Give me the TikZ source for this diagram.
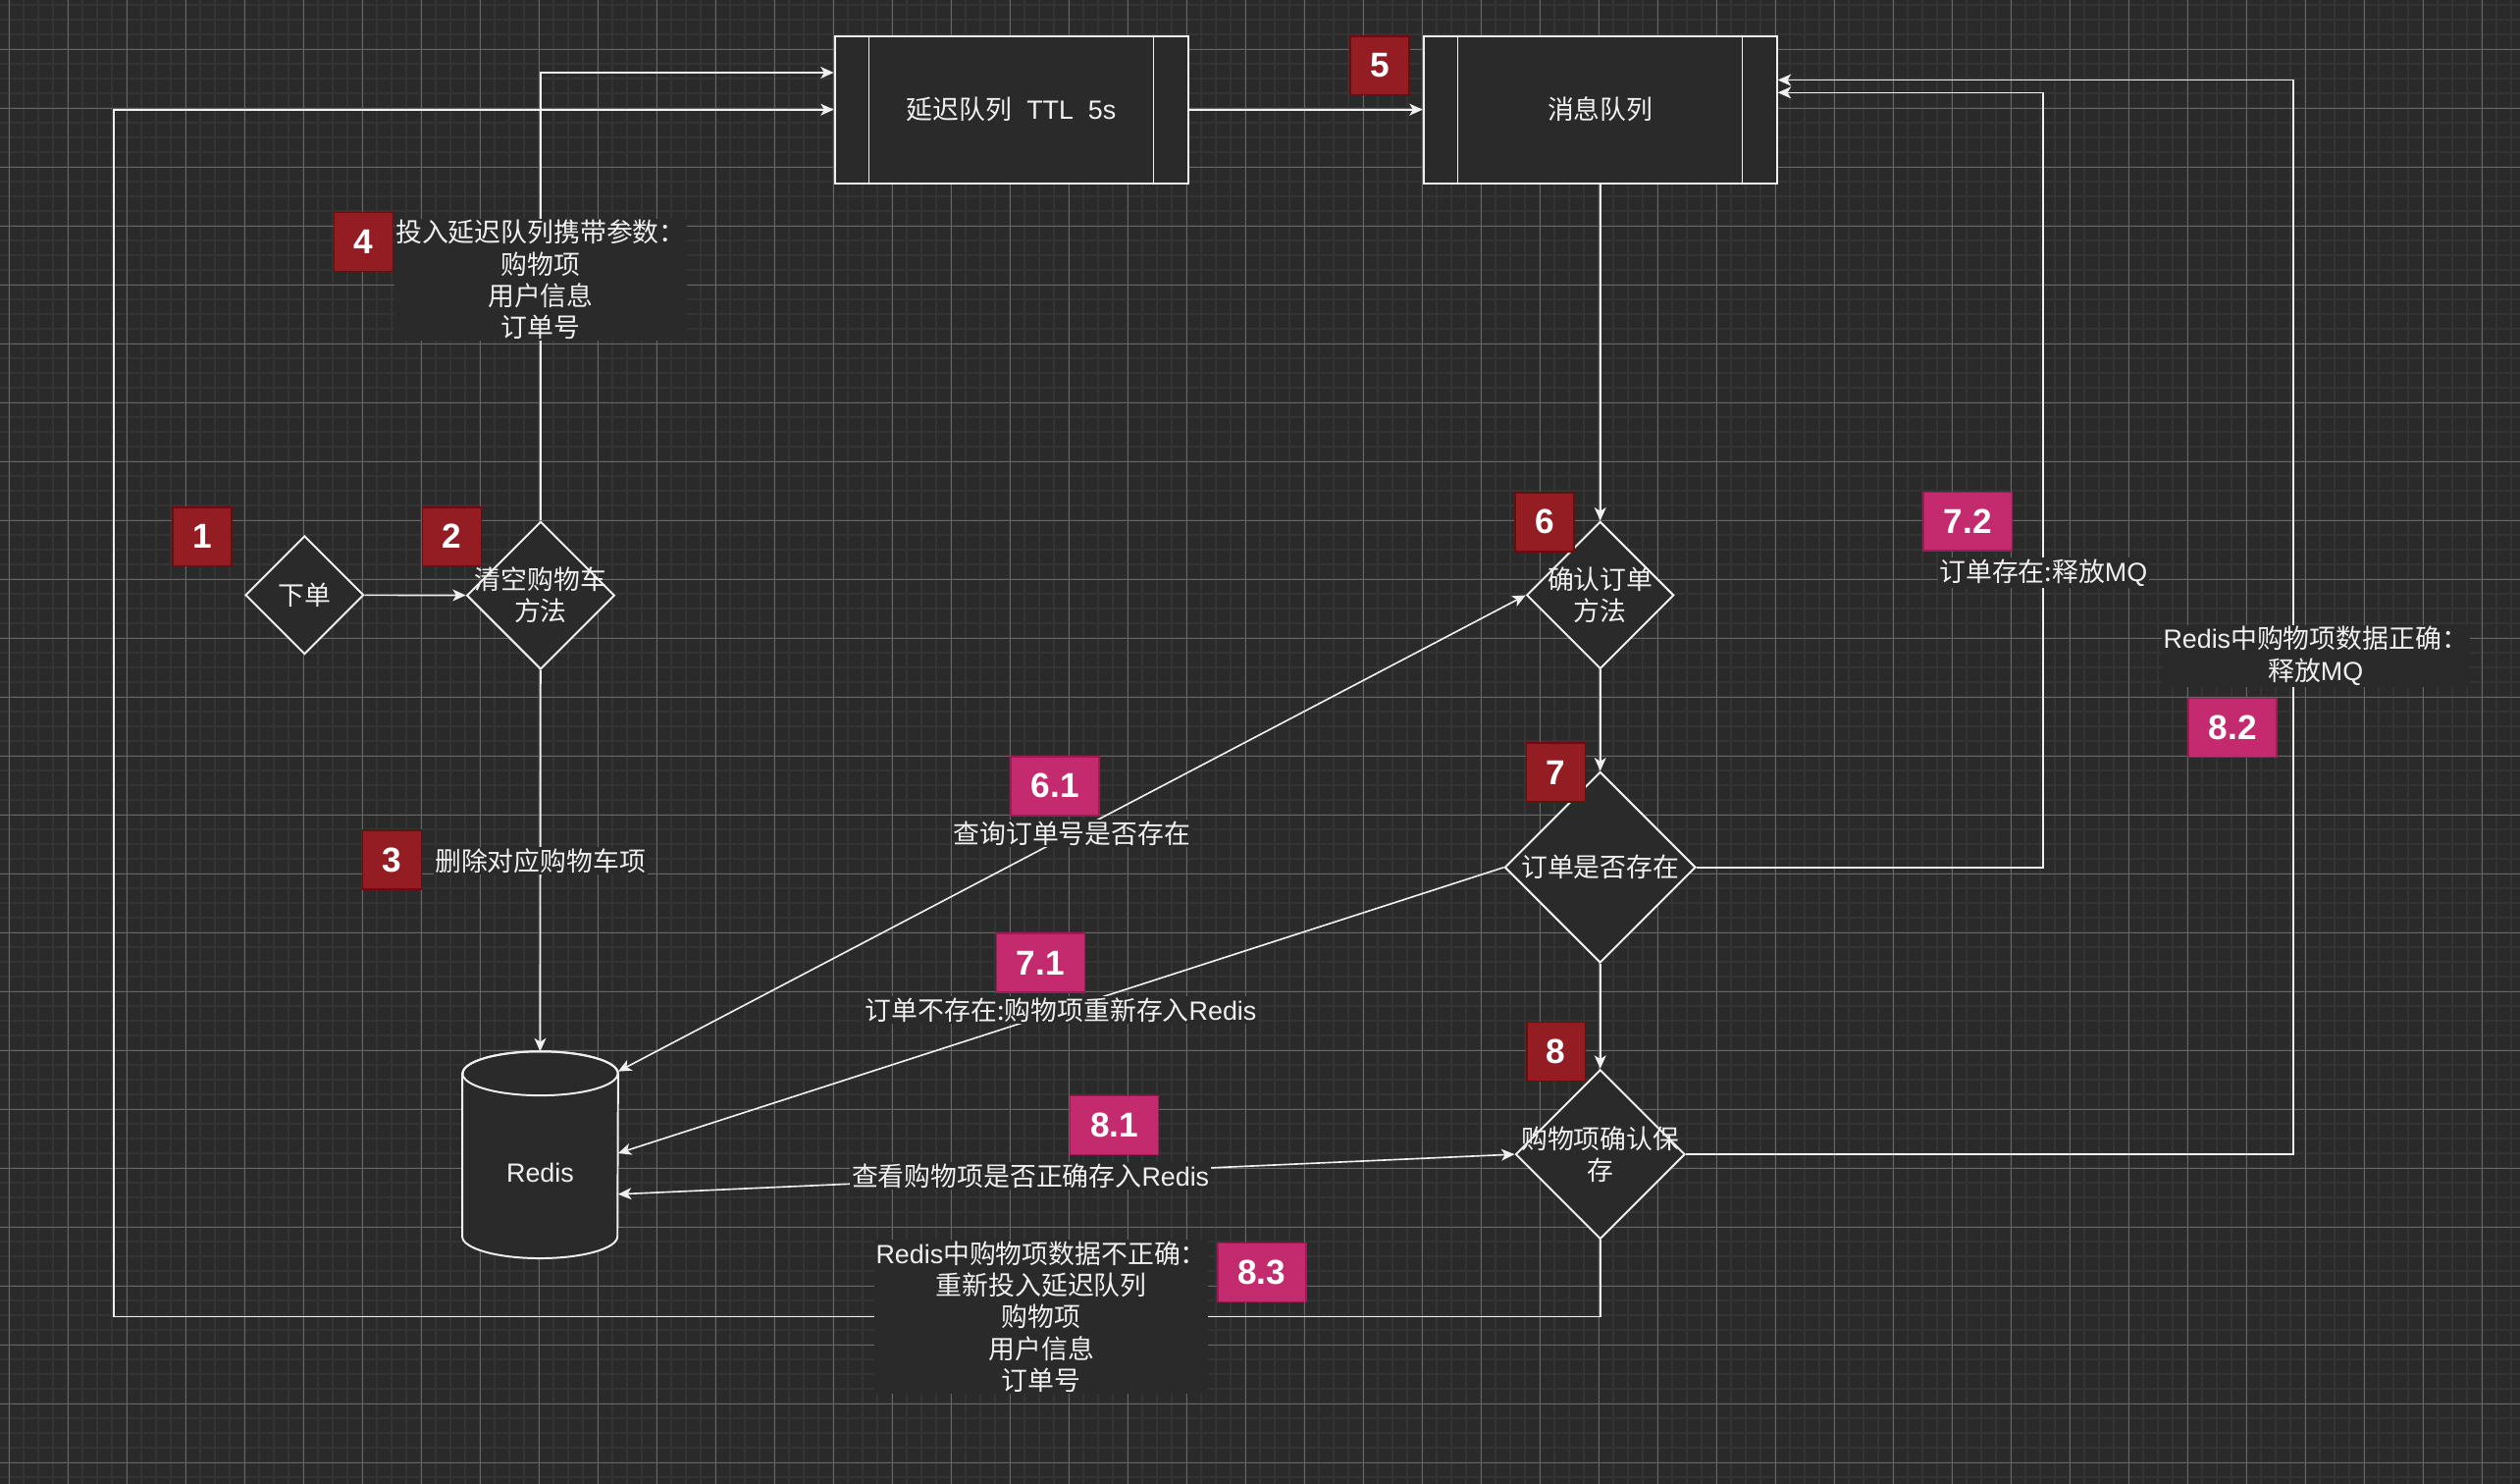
\documentclass[tikz,border=0pt]{standalone}
\usepackage{fontspec}
\setmainfont{Liberation Sans}
\newfontfamily\cjk{Noto Sans CJK SC}
\usetikzlibrary{arrows.meta,shapes.geometric}

\definecolor{canvas}{RGB}{42,42,42}
\definecolor{minorgrid}{RGB}{52,52,52}
\definecolor{majorgrid}{RGB}{102,102,102}
\definecolor{ink}{RGB}{240,240,240}
\definecolor{badgered}{RGB}{148,29,36}
\definecolor{badgeredline}{RGB}{108,12,12}
\definecolor{badgepink}{RGB}{196,42,110}
\definecolor{badgepinkline}{RGB}{160,26,84}

% latin words inside chinese labels
\newcommand{\lat}[1]{{\rmfamily #1}}

\tikzset{
  arr/.tip={Stealth[length=8.2pt,width=7.3pt,inset=2.2pt]},
  flow/.style={draw=ink, line width=1pt, -arr},
  flowboth/.style={draw=ink, line width=1pt, arr-arr},
  queue/.style={rectangle, draw=ink, line width=1.2pt, fill=canvas, inner sep=0pt,
    minimum width=219.8pt, minimum height=91.6pt},
  judge/.style={diamond, aspect=1, draw=ink, line width=1.2pt, fill=canvas, inner sep=0pt},
  memo/.style={fill=canvas, inner sep=1pt, align=center},
  numbox/.style={line width=1pt, minimum height=36.6pt, inner sep=0pt, text=white,
    font=\rmfamily\bfseries\fontsize{21.5}{24}\selectfont},
  numred/.style={numbox, fill=badgered, draw=badgeredline, minimum width=36.6pt},
  numpink/.style={numbox, fill=badgepink, draw=badgepinkline, minimum width=55pt},
  minorline/.style={draw=minorgrid, line width=1.2pt},
  majorline/.style={draw=majorgrid, line width=0.6pt}
}

\begin{document}
\begin{tikzpicture}[x=1pt, y=-1pt, text=ink, font=\cjk\fontsize{16.4}{19.6}\selectfont]
  % canvas and grid
  \fill[canvas] (0,0) rectangle (1568,923);
  \useasboundingbox (0,0) rectangle (1568,923);
  \foreach \k in {0,...,170} \draw[minorline] ({5.68+9.1585*\k},0) -- ++(0,923);
  \foreach \k in {-3,...,97} \draw[minorline] (0,{30.71+9.1585*\k}) -- ++(1568,0);
  \foreach \k in {0,...,42} \draw[majorline] ({5.68+36.634*\k},0) -- ++(0,923);
  \foreach \k in {0,...,24} \draw[majorline] (0,{30.71+36.634*\k}) -- ++(1568,0);

  % queues
  \node[queue] (delay) at (629.3,68.2) {延迟队列\lat{\ \ TTL\ \ 5s}};
  \node[queue] (mq) at (995.7,68.2) {消息队列};
  \foreach \q in {delay,mq} {
    \draw[ink, line width=0.8pt] ([xshift=22pt]\q.north west) -- ([xshift=22pt]\q.south west);
    \draw[ink, line width=0.8pt] ([xshift=-22pt]\q.north east) -- ([xshift=-22pt]\q.south east);
  }

  % decisions
  \node[judge, minimum size=73.6pt, label=center:下单] (order) at (189.5,370.2) {};
  \node[judge, minimum size=92pt, label={[align=center]center:{清空购物车\\方法}}] (clear) at (336.4,370.4) {};
  \node[judge, minimum size=91.6pt, label={[align=center]center:{确认订单\\方法}}] (confirm) at (995.7,370.3) {};
  \node[judge, minimum size=118.8pt, label=center:订单是否存在] (exists) at (995.7,539.6) {};
  \node[judge, minimum size=105.4pt, label={[align=center]center:{购物项确认保\\存}}] (save) at (995.7,718.1) {};

  % redis cylinder
  \node[minimum width=96.6pt, minimum height=128.3pt, inner sep=0pt] (redis) at (336.1,718.45) {};
  \filldraw[fill=canvas, draw=ink, line width=1.2pt]
    ([yshift=-13.7pt]redis.north west) -- ([yshift=13.7pt]redis.south west)
    arc[start angle=180, end angle=360, x radius=48.3pt, y radius=13.7pt]
    -- ([yshift=-13.7pt]redis.north east)
    arc[start angle=0, end angle=180, x radius=48.3pt, y radius=13.7pt] -- cycle;
  \draw[ink, line width=1.2pt] ([yshift=-13.7pt]redis.north) ellipse [x radius=48.3pt, y radius=13.7pt];
  \node at ([yshift=-11.2pt]redis.center) {\lat{Redis}};

  \coordinate (loopcorner) at (70.8,819.2);

  % connectors
  \draw[flow] (order) -- (clear);
  \draw[flow] (clear.south) -- (redis.north) node[memo, midway] {删除对应购物车项};
  \draw[flow] (clear.north) |- ([yshift=23pt]delay.west)
    node[memo, pos=0.269] {投入延迟队列携带参数：\\购物项\\用户信息\\订单号};
  \draw[flow] (delay) -- (mq);
  \draw[flow] (mq.south) -- (confirm.north);
  \draw[flowboth] ([yshift=51.9pt]redis.east) -- (confirm.west) node[memo, midway] {查询订单号是否存在};
  \draw[flow] (confirm.south) -- (exists.north);
  \draw[flow] (exists.west) -- ([yshift=1pt]redis.east)
    node[memo, midway] {订单不存在:购物项重新存入\lat{Redis}};
  \draw[flow] (exists.east) -- ++(215.7,0) |- ([yshift=10.6pt]mq.east)
    node[memo, pos=0.19] {订单存在:释放\lat{MQ}};
  \draw[flow] (exists.south) -- (save.north);
  \draw[flowboth] ([yshift=-24.5pt]redis.east) -- (save.west)
    node[memo, pos=0.46] {查看购物项是否正确存入\lat{Redis}};
  \draw[flow] (save.east) -- ++(377.8,0) |- ([yshift=18.4pt]mq.east)
    node[memo, pos=0.232, xshift=14pt] {\lat{Redis}中购物项数据正确：\\释放\lat{MQ}};
  \draw[flow] (save.south) |- (loopcorner)
    node[memo, pos=0.688] {\lat{Redis}中购物项数据不正确：\\重新投入延迟队列\\购物项\\用户信息\\订单号}
    |- (delay.west);

  % step numbers
  \node[numred] (s1) at (125.7,333.8) {1};
  \node[numred] (s2) at (281.2,333.8) {2};
  \node[numred] (s3) at (244,535) {3};
  \node[numred] (s4) at (226.2,150.6) {4};
  \node[numred] (s5) at (858.4,40.7) {5};
  \node[numred] (s6) at (961.2,324.7) {6};
  \node[numred] (s7) at (968.1,480.5) {7};
  \node[numred] (s8) at (968.2,654.3) {8};
  \node[numpink] (s61) at (656.5,489) {6.1};
  \node[numpink] (s71) at (647.5,599) {7.1};
  \node[numpink] (s72) at (1224.4,324.4) {7.2};
  \node[numpink] (s81) at (693.4,700.1) {8.1};
  \node[numpink] (s82) at (1389.2,452.8) {8.2};
  \node[numpink] (s83) at (785.1,791.7) {8.3};
\end{tikzpicture}
\end{document}
